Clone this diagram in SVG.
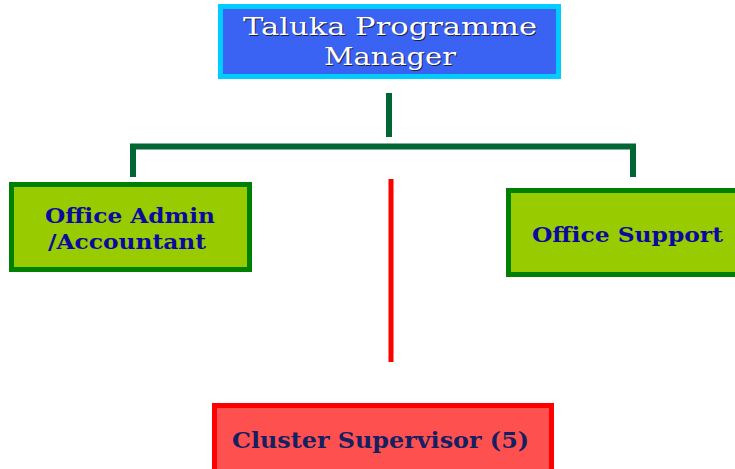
<svg xmlns="http://www.w3.org/2000/svg" width="735" height="469" viewBox="0 0 735 469">
<style>
.green{fill:#99CC00;stroke:#008000;stroke-width:5}
.gtxt{font-family:"DejaVu Serif","Liberation Serif",serif;font-weight:bold;font-size:21px;fill:#0A0AA0}
.ttxt{font-family:"DejaVu Serif","Liberation Serif",serif;font-size:24px}
.conn{stroke:#006633;stroke-width:6;fill:none}
</style>
<rect width="735" height="469" fill="#FFFFFF"/>
<g id="connectors">
<line class="conn" x1="389" y1="93" x2="389" y2="137"/>
<polyline class="conn" points="133,177 133,146.5 633,146.5 633,177"/>
<line x1="391" y1="179" x2="391" y2="362" stroke="#FF0000" stroke-width="5"/>
</g>
<g id="taluka">
<rect x="220.5" y="6.5" width="338" height="70" fill="#3A63F4" stroke="#00CCFF" stroke-width="5"/>
<g class="ttxt" text-anchor="middle">
<text x="391" y="36" fill="#202040" textLength="294" lengthAdjust="spacingAndGlyphs">Taluka Programme</text>
<text x="391" y="66" fill="#202040" textLength="132" lengthAdjust="spacingAndGlyphs">Manager</text>
<text x="390" y="35" fill="#FFFFFF" textLength="294" lengthAdjust="spacingAndGlyphs">Taluka Programme</text>
<text x="390" y="65" fill="#FFFFFF" textLength="132" lengthAdjust="spacingAndGlyphs">Manager</text>
</g>
</g>
<g id="admin">
<rect class="green" x="11.5" y="184.5" width="238" height="85"/>
<text class="gtxt" x="45" y="223" textLength="170" lengthAdjust="spacingAndGlyphs">Office Admin</text>
<text class="gtxt" x="48" y="249" textLength="158" lengthAdjust="spacingAndGlyphs">/Accountant</text>
</g>
<g id="support">
<rect class="green" x="508.5" y="190.5" width="232" height="84"/>
<text class="gtxt" x="532" y="242" textLength="191" lengthAdjust="spacingAndGlyphs">Office Support</text>
</g>
<g id="cluster">
<rect x="214.5" y="405.5" width="337" height="66" fill="#FF5050" stroke="#FF0000" stroke-width="5"/>
<text x="232" y="448" font-family="DejaVu Serif, Liberation Serif, serif" font-weight="bold" font-size="23px" fill="#142060" textLength="297" lengthAdjust="spacingAndGlyphs">Cluster Supervisor (5)</text>
</g>
</svg>
